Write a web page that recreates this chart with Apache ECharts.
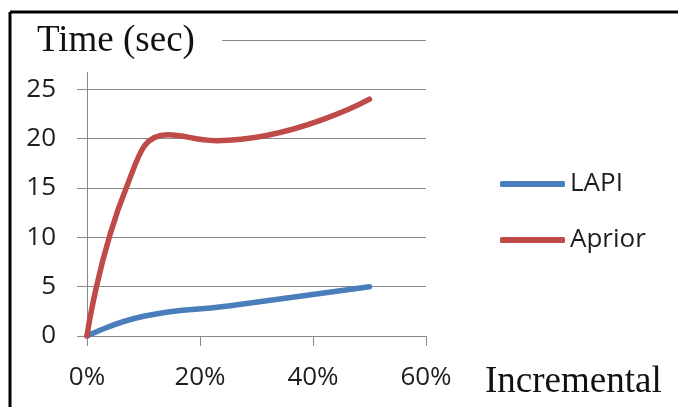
<!DOCTYPE html>
<html><head><meta charset="utf-8">
<script src="https://cdn.jsdelivr.net/npm/echarts@6/dist/echarts.min.js"></script>
<style>html,body{margin:0;padding:0;background:#fff}#c{width:678px;height:407px}</style>
</head><body><div id="c"></div>
<script>
// data
const lapiX = [0, 0.10, 0.25, 0.50];
const lapiY = [0, 2.0, 3.05, 5.0];
const aprX = [0, 0.07, 0.143, 0.229, 0.50];
const aprY = [0, 15.1, 20.4, 19.8, 24.0];
const seriesNames = ['LAPI', 'Aprior'];
const yAxisTitle = 'Time (sec)';
const xAxisTitle = 'Incremental';
const yMin = 0, yMax = 30, yStep = 5;
const xMin = 0, xMax = 0.6, xStep = 0.2;

const gridColor = '#8a8a8a';
const tickFont = {fontFamily: 'Open Sans', fontSize: 26, color: '#1e1e1e'};

const chart = echarts.init(document.getElementById('c'), null, {renderer: 'canvas'});
chart.setOption({
  animation: false,
  backgroundColor: '#fff',
  grid: {left: 87, right: 252, top: 40, bottom: 71, containLabel: false},
  xAxis: {
    type: 'value', min: xMin, max: xMax, interval: xStep,
    axisLine: {show: true, lineStyle: {color: gridColor, width: 1}},
    axisTick: {show: true, length: 10, lineStyle: {color: gridColor}},
    splitLine: {show: false},
    axisLabel: Object.assign({margin: 29, formatter: v => Math.round(v * 100) + '%'}, tickFont)
  },
  yAxis: {
    type: 'value', min: yMin, max: yMax, interval: yStep,
    axisLine: {show: true, lineStyle: {color: gridColor, width: 1}},
    axisTick: {show: true, length: 10, lineStyle: {color: gridColor}},
    splitLine: {show: true, lineStyle: {color: gridColor, width: 1}},
    axisLabel: Object.assign({margin: 31, formatter: v => (v === yMax ? '' : String(v))}, tickFont)
  },
  legend: {
    orient: 'vertical', left: 500, top: 166, padding: 0,
    icon: 'roundRect', itemWidth: 65, itemHeight: 6, itemGap: 20,
    data: seriesNames,
    textStyle: {fontFamily: 'Open Sans', fontSize: 26, color: '#1e1e1e', lineHeight: 36}
  },
  series: [
    {name: seriesNames[0], type: 'line', smooth: 0.5, symbol: 'none',
     color: '#4a7ebb', lineStyle: {width: 5.5, color: '#4a7ebb', cap: 'round'},
     data: lapiX.map((x, i) => [x, lapiY[i]])},
    {name: seriesNames[1], type: 'line', smooth: 0.5, symbol: 'none',
     color: '#be4b48', lineStyle: {width: 5.5, color: '#be4b48', cap: 'round'},
     data: aprX.map((x, i) => [x, aprY[i]])}
  ],
  graphic: [
    {type: 'rect', z: 100, shape: {x: 12, y: 14, width: 210, height: 58}, style: {fill: '#fff'}},
    {type: 'text', z: 101, x: 37, y: 41, style: {text: yAxisTitle, font: '37px "Liberation Serif"', fill: '#111', verticalAlign: 'middle', align: 'left'}},
    {type: 'text', z: 101, x: 485, y: 382, style: {text: xAxisTitle, font: '37px "Liberation Serif"', fill: '#111', verticalAlign: 'middle', align: 'left'}},
    {type: 'line', z: 102, shape: {x1: 10, y1: 12, x2: 678, y2: 12}, style: {stroke: '#000', lineWidth: 3}},
    {type: 'line', z: 102, shape: {x1: 10, y1: 12, x2: 10, y2: 407}, style: {stroke: '#000', lineWidth: 3}}
  ]
});
</script>
</body></html>
